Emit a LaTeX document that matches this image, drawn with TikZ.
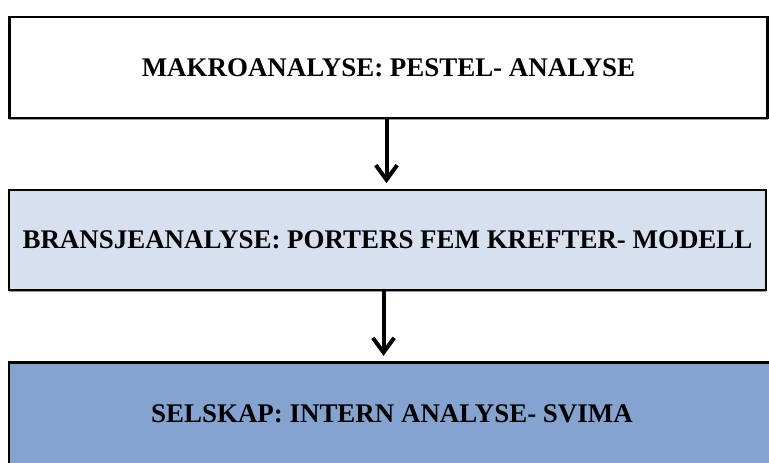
\documentclass[tikz,border=0pt]{standalone}
\usepackage{fontspec}
\setmainfont{Liberation Serif}
\usetikzlibrary{arrows.meta,shadows}
\definecolor{paleblue}{RGB}{214,224,238}
\definecolor{midblue}{RGB}{132,163,207}

\begin{document}
\begin{tikzpicture}[x=0.75pt,y=-0.75pt]

\tikzstyle{level}=[rectangle,draw=black,line width=2.2pt,inner sep=0pt,font=\fontsize{20.2}{24}\selectfont\bfseries,drop shadow={shadow xshift=0pt,shadow yshift=-1.8pt,fill=black!40,opacity=1}]
\tikzstyle{flow}=[-{Straight Barb[length=11pt,width=16pt]},line width=3pt,shorten >=4pt]

\useasboundingbox (0,0) rectangle (769,462);
\node[level,fill=white,minimum width=569pt,minimum height=75.75pt] (makro) at (388.5,67.5) {MAKROANALYSE: PESTEL- ANALYSE};
\node[level,fill=paleblue,minimum width=567.75pt,minimum height=75pt] (bransje) at (387.5,240) {BRANSJEANALYSE: PORTERS FEM KREFTER- MODELL};
\node[level,fill=midblue,minimum width=574.5pt,minimum height=77pt] (selskap) at (392,414) {SELSKAP: INTERN ANALYSE- SVIMA};
\draw[flow] ([xshift=-1.5pt]makro.south) -- ([xshift=-1.5pt]makro.south |- bransje.north);
\draw[flow] ([xshift=-3pt]bransje.south) -- ([xshift=-3pt]bransje.south |- selskap.north);
\end{tikzpicture}
\end{document}
